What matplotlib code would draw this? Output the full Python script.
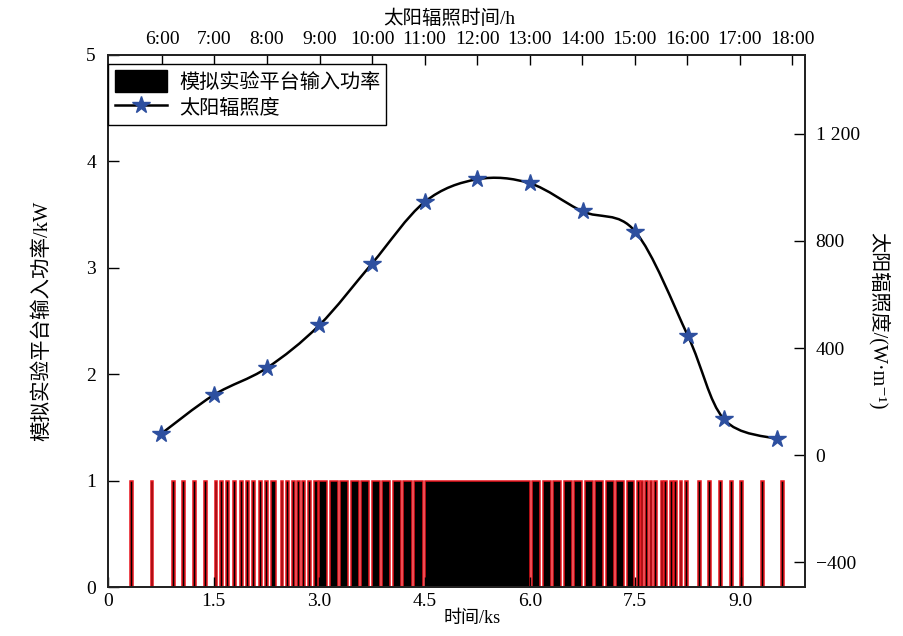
import matplotlib
matplotlib.use("Agg")
import matplotlib.pyplot as plt
from matplotlib.path import Path
from matplotlib.patches import PathPatch, Patch
from matplotlib.lines import Line2D

plt.rcParams['font.family'] = ['Liberation Serif', 'Noto Sans CJK SC', 'DejaVu Sans']

# input power pulses: left edge (ks), width (ks), all at 1 kW
pulse_t = [0.31, 0.60, 0.90, 1.05, 1.21, 1.36, 1.51, 1.59, 1.68, 1.77, 1.87, 1.96,
           2.05, 2.14, 2.23, 2.32, 2.45, 2.53, 2.61, 2.69, 2.76, 2.84, 2.93,
           3.00, 3.15, 3.30, 3.45, 3.60, 3.75, 3.90, 4.05, 4.20, 4.35,
           4.51,
           6.03, 6.18, 6.33, 6.48, 6.63, 6.78, 6.93, 7.08, 7.23, 7.38,
           7.53, 7.58, 7.64, 7.71, 7.77, 7.86, 7.91, 7.99, 8.05, 8.13, 8.21,
           8.39, 8.54, 8.69, 8.85, 8.99, 9.29, 9.58]
pulse_w = [0.04, 0.04, 0.04, 0.04, 0.04, 0.04, 0.04, 0.04, 0.04, 0.04, 0.04, 0.04,
           0.04, 0.04, 0.04, 0.07, 0.04, 0.04, 0.04, 0.04, 0.04, 0.04, 0.06,
           0.115, 0.115, 0.115, 0.115, 0.115, 0.115, 0.115, 0.115, 0.115, 0.125,
           1.49,
           0.115, 0.115, 0.115, 0.115, 0.115, 0.115, 0.115, 0.115, 0.115, 0.10,
           0.035, 0.035, 0.035, 0.035, 0.035, 0.04, 0.035, 0.04, 0.04, 0.04, 0.04,
           0.04, 0.04, 0.04, 0.04, 0.04, 0.04, 0.04]
pulse_p = [1.0] * len(pulse_t)

# solar irradiance samples
irr_t = [0.75, 1.50, 2.25, 3.00, 3.75, 4.50, 5.25, 6.00, 6.75, 7.50, 8.25, 8.76, 9.52]
irr_v = [80, 225, 325, 485, 715, 945, 1030, 1015, 910, 835, 445, 135, 60]

x_ticks = [0, 1.5, 3.0, 4.5, 6.0, 7.5, 9.0]
x_labels = ['0', '1.5', '3.0', '4.5', '6.0', '7.5', '9.0']
hour_ticks = [6, 7, 8, 9, 10, 11, 12, 13, 14, 15, 16, 17, 18]
hour_labels = ['%d:00' % h for h in hour_ticks]
irr_ticks = [-400, 0, 400, 800, 1200]
irr_labels = ['\u2212400', '0', '400', '800', '1 200']

fig = plt.figure(figsize=(9.04, 6.36), dpi=100)
ax = fig.add_axes([0.120, 0.077, 0.770, 0.837])

ax.bar(pulse_t, pulse_p, width=pulse_w, align='edge', color='black',
       edgecolor='#e8141c', linewidth=1.1)
ax.set_xlim(0, 9.91)
ax.set_ylim(0, 5)
ax.set_xticks(x_ticks)
ax.set_xticklabels(x_labels)
ax.set_yticks([0, 1, 2, 3, 4, 5])
ax.tick_params(axis='x', direction='in', length=7, width=1, labelsize=14, pad=4)
ax.tick_params(axis='y', direction='in', length=8, width=1, labelsize=14, pad=9)
ax.set_xlabel('时间/ks', fontsize=13)
ax.xaxis.set_label_coords(0.522, -0.044)
ax.set_ylabel('模拟实验平台输入功率/kW', fontsize=14.8)
ax.yaxis.set_label_coords(-0.081, 0.5)

ax2 = ax.twinx()
ax2.set_ylim(-492, 1495)
ax2.set_yticks(irr_ticks)
ax2.set_yticklabels(irr_labels)
ax2.tick_params(axis='y', direction='in', length=8, width=1, labelsize=14, pad=8)

# smooth curve through samples (Catmull-Rom as cubic Bezier)
pts = list(zip(irr_t, irr_v))
verts = [pts[0]]
codes = [Path.MOVETO]
for i in range(len(pts) - 1):
    p0 = pts[i - 1] if i > 0 else pts[i]
    p1 = pts[i]
    p2 = pts[i + 1]
    p3 = pts[i + 2] if i + 2 < len(pts) else pts[i + 1]
    c1 = (p1[0] + (p2[0] - p0[0]) / 6, p1[1] + (p2[1] - p0[1]) / 6)
    c2 = (p2[0] - (p3[0] - p1[0]) / 6, p2[1] - (p3[1] - p1[1]) / 6)
    verts += [c1, c2, p2]
    codes += [Path.CURVE4] * 3
ax2.add_patch(PathPatch(Path(verts, codes), facecolor='none', edgecolor='black', lw=1.8))
ax2.plot(irr_t, irr_v, linestyle='none', marker='*', markersize=13,
         color='#2d4f9f', markeredgecolor='#2d4f9f')
ax2.set_ylabel('太阳辐照度/(W·m⁻¹)', fontsize=14.5, rotation=270)
ax2.yaxis.set_label_coords(1.122, 0.5)

ax3 = ax.twiny()
ax3.set_xlim(4.982, 18.234)
ax3.set_xticks(hour_ticks)
ax3.set_xticklabels(hour_labels)
ax3.tick_params(axis='x', direction='in', length=7, width=1, labelsize=14, pad=5)
ax3.set_xlabel('太阳辐照时间/h', fontsize=14)
ax3.xaxis.set_label_coords(0.49, 1.057)

for a in (ax, ax2, ax3):
    for s in a.spines.values():
        s.set_linewidth(1.1)
        s.set_color('#222222')

handles = [Patch(facecolor='black', edgecolor='black'),
           Line2D([], [], color='black', lw=1.8, marker='*', markersize=13,
                  markerfacecolor='#2d4f9f', markeredgecolor='#2d4f9f')]
leg = ax3.legend(handles, ['模拟实验平台输入功率', '太阳辐照度'], loc='upper left',
                 bbox_to_anchor=(0.0, 0.983), borderaxespad=0, fontsize=14.5,
                 fancybox=False, edgecolor='black', framealpha=1,
                 handlelength=2.6, handleheight=1.3, handletextpad=0.6,
                 borderpad=0.3, labelspacing=0.2)
leg.get_frame().set_linewidth(1.0)

fig.savefig('out.png', dpi=100)
